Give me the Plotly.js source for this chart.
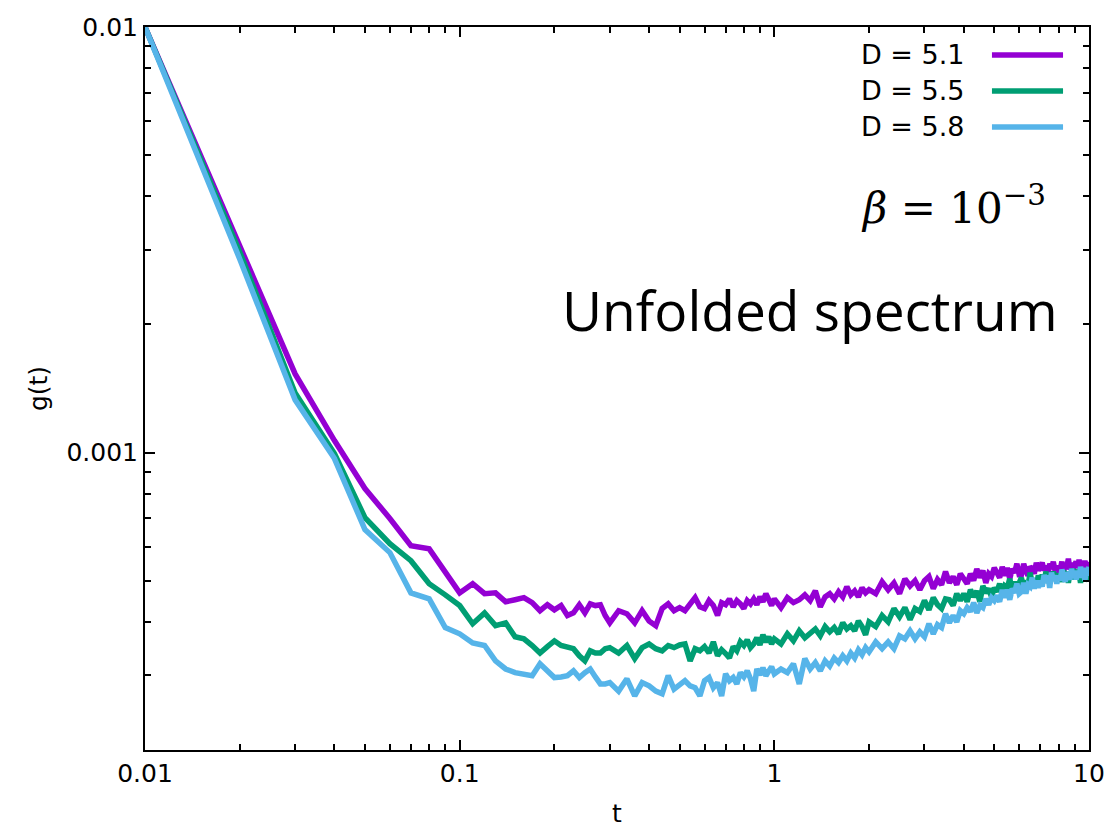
<!DOCTYPE html>
<html>
<head>
<meta charset="utf-8">
<script src="https://cdn.plot.ly/plotly-3.0.1.min.js"></script>
<style>html,body{margin:0;padding:0;background:#fff;}#chart{width:1119px;height:828px;}</style>
</head>
<body>
<div id="chart"></div>
<script>
// time values t
const t = [
0.01,0.02,0.03,0.04,0.05,0.06,0.07,0.08,0.09,0.10,
0.11,0.12,0.13,0.14,0.15,0.16,0.17,0.18,0.19,0.20,0.21,0.22,0.23,0.24,0.25,0.26,0.27,0.28,0.29,0.30,
0.32,0.34,0.36,0.38,0.40,0.42,0.44,0.46,0.48,0.50,0.52,0.54,0.56,0.58,0.60,0.62,0.64,0.66,0.68,0.70,
0.72,0.74,0.76,0.78,0.80,0.82,0.84,0.86,0.88,0.90,0.92,0.94,0.96,0.98,1.00,
1.05,1.10,1.15,1.20,1.25,1.30,1.35,1.40,1.45,1.50,1.55,1.60,1.65,1.70,1.75,1.80,1.85,1.90,1.95,2.00,
2.1,2.2,2.3,2.4,2.5,2.6,2.7,2.8,2.9,3.0,3.1,3.2,3.3,3.4,3.5,3.6,3.7,3.8,3.9,4.0,
4.1,4.2,4.3,4.4,4.5,4.6,4.7,4.8,4.9,5.0,5.1,5.2,5.3,5.4,5.5,5.6,5.7,5.8,5.9,6.0,
6.1,6.2,6.3,6.4,6.5,6.6,6.7,6.8,6.9,7.0,7.1,7.2,7.3,7.4,7.5,7.6,7.7,7.8,7.9,8.0,
8.1,8.2,8.3,8.4,8.5,8.6,8.7,8.8,8.9,9.0,9.1,9.2,9.3,9.4,9.5,9.6,9.7,9.8,9.9,10.0
];

// g(t) for D = 5.1
const g_D51 = [
1.00e-2,3.05e-3,1.53e-3,1.067e-3,8.23e-4,7.00e-4,6.04e-4,5.94e-4,5.22e-4,4.68e-4,
4.92e-4,4.66e-4,4.68e-4,4.46e-4,4.51e-4,4.56e-4,4.44e-4,4.25e-4,4.39e-4,4.27e-4,4.37e-4,4.14e-4,4.20e-4,4.39e-4,4.20e-4,4.41e-4,4.37e-4,4.39e-4,4.14e-4,3.98e-4,
4.25e-4,4.18e-4,3.98e-4,4.25e-4,4.02e-4,3.92e-4,4.30e-4,4.41e-4,4.25e-4,4.32e-4,4.25e-4,4.39e-4,4.56e-4,4.34e-4,4.30e-4,4.49e-4,4.37e-4,4.14e-4,4.44e-4,4.39e-4,
4.53e-4,4.34e-4,4.49e-4,4.41e-4,4.30e-4,4.49e-4,4.41e-4,4.53e-4,4.39e-4,4.58e-4,4.46e-4,4.66e-4,4.49e-4,4.37e-4,4.53e-4,
4.32e-4,4.56e-4,4.44e-4,4.51e-4,4.63e-4,4.49e-4,4.73e-4,4.34e-4,4.58e-4,4.66e-4,4.53e-4,4.71e-4,4.58e-4,4.84e-4,4.63e-4,4.73e-4,4.58e-4,4.81e-4,4.68e-4,4.76e-4,
4.66e-4,4.97e-4,4.76e-4,4.94e-4,4.66e-4,5.05e-4,4.86e-4,5.00e-4,4.76e-4,5.00e-4,5.11e-4,4.79e-4,5.03e-4,4.89e-4,5.25e-4,4.94e-4,5.11e-4,4.89e-4,5.19e-4,5.05e-4,
4.92e-4,5.19e-4,5.00e-4,5.33e-4,5.08e-4,5.28e-4,4.94e-4,5.19e-4,5.11e-4,5.36e-4,5.25e-4,5.08e-4,5.39e-4,5.14e-4,5.36e-4,5.05e-4,5.33e-4,5.22e-4,5.48e-4,5.16e-4,
5.16e-4,5.48e-4,5.28e-4,5.14e-4,5.39e-4,5.33e-4,5.19e-4,5.51e-4,5.28e-4,5.45e-4,5.51e-4,5.28e-4,5.42e-4,5.16e-4,5.48e-4,5.33e-4,5.54e-4,5.28e-4,5.42e-4,5.22e-4,
5.31e-4,5.54e-4,5.22e-4,5.48e-4,5.39e-4,5.63e-4,5.31e-4,5.51e-4,5.28e-4,5.45e-4,5.54e-4,5.36e-4,5.60e-4,5.28e-4,5.45e-4,5.33e-4,5.57e-4,5.36e-4,5.51e-4,5.39e-4
];

// g(t) for D = 5.5
const g_D55 = [
1.00e-2,2.96e-3,1.38e-3,9.95e-4,7.03e-4,6.11e-4,5.57e-4,4.92e-4,4.63e-4,4.37e-4,
3.96e-4,4.20e-4,3.92e-4,3.98e-4,3.69e-4,3.65e-4,3.52e-4,3.38e-4,3.50e-4,3.61e-4,3.52e-4,3.48e-4,3.46e-4,3.33e-4,3.24e-4,3.42e-4,3.38e-4,3.38e-4,3.46e-4,3.48e-4,
3.38e-4,3.52e-4,3.28e-4,3.48e-4,3.55e-4,3.46e-4,3.42e-4,3.52e-4,3.48e-4,3.53e-4,3.55e-4,3.24e-4,3.46e-4,3.42e-4,3.50e-4,3.38e-4,3.59e-4,3.33e-4,3.44e-4,3.37e-4,
3.29e-4,3.50e-4,3.42e-4,3.59e-4,3.52e-4,3.63e-4,3.48e-4,3.55e-4,3.67e-4,3.53e-4,3.73e-4,3.59e-4,3.69e-4,3.55e-4,3.65e-4,
3.55e-4,3.75e-4,3.61e-4,3.81e-4,3.67e-4,3.77e-4,3.85e-4,3.71e-4,3.90e-4,3.79e-4,3.88e-4,3.75e-4,3.98e-4,3.85e-4,3.92e-4,3.81e-4,4.02e-4,3.90e-4,3.73e-4,4.00e-4,
3.90e-4,4.14e-4,4.00e-4,4.30e-4,4.11e-4,4.32e-4,4.05e-4,4.30e-4,4.23e-4,4.49e-4,4.27e-4,4.56e-4,4.39e-4,4.30e-4,4.53e-4,4.51e-4,4.37e-4,4.66e-4,4.49e-4,4.66e-4,
4.46e-4,4.76e-4,4.58e-4,4.73e-4,4.46e-4,4.86e-4,4.68e-4,4.79e-4,4.58e-4,4.81e-4,4.71e-4,4.92e-4,4.66e-4,4.86e-4,4.81e-4,5.05e-4,4.76e-4,4.97e-4,4.76e-4,4.94e-4,
5.08e-4,4.76e-4,5.00e-4,4.86e-4,5.22e-4,4.92e-4,5.05e-4,4.86e-4,5.14e-4,5.00e-4,5.16e-4,5.00e-4,5.25e-4,4.94e-4,5.11e-4,5.00e-4,5.25e-4,5.05e-4,5.19e-4,5.08e-4,
5.16e-4,4.97e-4,5.28e-4,5.05e-4,5.25e-4,4.94e-4,5.22e-4,5.08e-4,5.33e-4,5.03e-4,5.31e-4,5.05e-4,5.19e-4,4.94e-4,5.25e-4,5.11e-4,5.28e-4,5.03e-4,5.16e-4,4.97e-4
];

// g(t) for D = 5.8
const g_D58 = [
1.00e-2,2.85e-3,1.33e-3,9.68e-4,6.59e-4,5.82e-4,4.68e-4,4.53e-4,3.88e-4,3.75e-4,
3.57e-4,3.52e-4,3.24e-4,3.10e-4,3.04e-4,3.02e-4,2.99e-4,3.19e-4,3.07e-4,2.96e-4,2.97e-4,2.99e-4,3.07e-4,2.96e-4,3.04e-4,3.10e-4,2.97e-4,2.86e-4,2.86e-4,2.88e-4,
2.75e-4,2.94e-4,2.68e-4,2.88e-4,2.83e-4,2.75e-4,2.71e-4,2.99e-4,2.78e-4,2.86e-4,2.91e-4,2.83e-4,2.80e-4,2.68e-4,2.91e-4,2.96e-4,2.80e-4,2.88e-4,2.68e-4,3.02e-4,
2.91e-4,2.96e-4,2.86e-4,3.04e-4,2.97e-4,3.07e-4,2.94e-4,2.75e-4,3.10e-4,3.00e-4,3.12e-4,2.99e-4,3.05e-4,3.14e-4,3.02e-4,
3.10e-4,3.04e-4,3.19e-4,2.86e-4,3.28e-4,3.10e-4,3.21e-4,3.07e-4,3.24e-4,3.15e-4,3.29e-4,3.21e-4,3.33e-4,3.24e-4,3.38e-4,3.29e-4,3.44e-4,3.35e-4,3.48e-4,3.40e-4,
3.59e-4,3.46e-4,3.59e-4,3.46e-4,3.71e-4,3.65e-4,3.81e-4,3.65e-4,3.79e-4,3.69e-4,3.96e-4,3.75e-4,3.94e-4,3.88e-4,4.18e-4,3.98e-4,4.14e-4,4.00e-4,4.25e-4,4.18e-4,
4.32e-4,4.23e-4,4.44e-4,4.20e-4,4.37e-4,4.32e-4,4.53e-4,4.39e-4,4.56e-4,4.49e-4,4.61e-4,4.46e-4,4.76e-4,4.56e-4,4.76e-4,4.51e-4,4.79e-4,4.68e-4,4.92e-4,4.66e-4,
4.71e-4,4.94e-4,4.66e-4,4.89e-4,4.84e-4,5.08e-4,4.79e-4,5.00e-4,4.81e-4,5.00e-4,4.84e-4,5.16e-4,4.94e-4,5.14e-4,4.81e-4,5.22e-4,5.03e-4,5.14e-4,4.92e-4,5.14e-4,
5.00e-4,5.31e-4,5.11e-4,4.97e-4,5.22e-4,5.16e-4,5.03e-4,5.33e-4,5.11e-4,5.28e-4,5.03e-4,5.28e-4,5.08e-4,5.39e-4,5.14e-4,5.36e-4,5.00e-4,5.25e-4,5.14e-4,5.39e-4
];

const seriesNames = ["D = 5.1", "D = 5.5", "D = 5.8"];
const seriesData = [g_D51, g_D55, g_D58];
const seriesColors = ["#9400d3", "#009e73", "#56b4e9"];

const xTickVals = [0.01, 0.1, 1, 10];
const xTickText = ["0.01", "0.1", "1", "10"];
const yTickVals = [0.001, 0.01];
const yTickText = ["0.001", "0.01"];

const traces = seriesData.map((g, i) => ({
  x: t, y: g, type: "scatter", mode: "lines", name: seriesNames[i],
  line: {color: seriesColors[i], width: 5.5},
  showlegend: false
}));

const tickFont = {family: "DejaVu Sans", size: 25, color: "#000"};
const axisCommon = {
  type: "log", showgrid: false, zeroline: false,
  showline: true, linecolor: "#000", linewidth: 2, mirror: "ticks",
  ticks: "inside", ticklen: 10, tickwidth: 2, tickcolor: "#000",
  tickfont: tickFont,
  minor: {ticks: "inside", ticklen: 6, tickwidth: 2, tickcolor: "#000", dtick: "D1", showgrid: false}
};

// legend drawn at the top-right, label left of the line sample
const legendY = [0.9613, 0.9115, 0.8617];
const annotations = [];
const shapes = [];
seriesNames.forEach((nm, i) => {
  annotations.push({xref: "paper", yref: "paper", x: 0.8708, y: legendY[i], xanchor: "right", yanchor: "middle",
    text: nm, showarrow: false, font: {family: "DejaVu Sans", size: 27, color: "#000"}});
  shapes.push({type: "line", xref: "paper", yref: "paper", x0: 0.8972, x1: 0.9725, y0: legendY[i], y1: legendY[i],
    line: {color: seriesColors[i], width: 5.5}});
});
annotations.push({xref: "paper", yref: "paper", x: 0.9566, y: 0.7538, xanchor: "right", yanchor: "middle",
  text: "<i>β</i> = 10<sup>−3</sup>", showarrow: false, font: {family: "DejaVu Serif", size: 42, color: "#000"}});
annotations.push({xref: "paper", yref: "paper", x: 0.9693, y: 0.6086, xanchor: "right", yanchor: "middle",
  text: "Unfolded spectrum", showarrow: false, font: {family: "Open Sans", size: 55, color: "#000"}});

const layout = {
  width: 1119, height: 828,
  margin: {l: 145, r: 30, t: 27, b: 78, pad: 0},
  paper_bgcolor: "#fff", plot_bgcolor: "#fff",
  showlegend: false,
  xaxis: Object.assign({}, axisCommon, {
    range: [-2, 1], tickmode: "array", tickvals: xTickVals, ticktext: xTickText,
    title: {text: "t", font: {family: "DejaVu Sans", size: 25, color: "#000"}, standoff: 18}
  }),
  yaxis: Object.assign({}, axisCommon, {
    range: [Math.log10(0.0002), -2], tickmode: "array", tickvals: yTickVals, ticktext: yTickText,
    title: {text: "g(t)", font: {family: "DejaVu Sans", size: 25, color: "#000"}, standoff: 12}
  }),
  annotations: annotations,
  shapes: shapes
};

Plotly.newPlot("chart", traces, layout, {displayModeBar: false, staticPlot: true});
</script>
</body>
</html>
